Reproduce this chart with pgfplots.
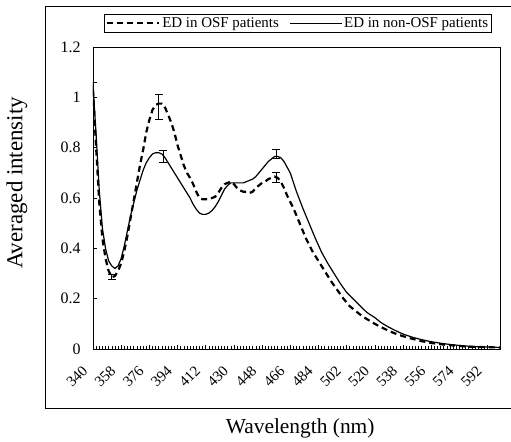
\documentclass[border=0pt]{standalone}
\usepackage{fontspec}
\setmainfont{Liberation Serif}
\usepackage{pgfplots}
\pgfplotsset{compat=1.18}
\begin{document}
\begin{tikzpicture}
\path[use as bounding box] (-93bp,-93bp) rectangle (418bp,349bp);
\begin{axis}[
  at={(0bp,0bp)}, anchor=south west,
  width=407bp, height=302bp, scale only axis,
  xmin=340, xmax=600, ymin=0, ymax=1.2,
  xtick={340,358,376,394,412,430,448,466,484,502,520,538,556,574,592},
  minor x tick num=8,
  ytick={0,0.2,0.4,0.6,0.8,1,1.2},
  yticklabels={0,0.2,0.4,0.6,0.8,1,1.2},
  xtick pos=bottom, ytick pos=left,
  tick align=inside, major tick length=4bp, minor tick length=3bp,
  tick style={line width=0.5bp, black},
  /pgf/number format/assume math mode=true,
  xticklabel style={font=\fontsize{15}{17}\selectfont, rotate=45, anchor=east, xshift=-16bp, yshift=-8bp},
  yticklabel style={font=\fontsize{16}{18}\selectfont, xshift=-9bp},
  axis line style={line width=0.6bp},
  xlabel={Wavelength (nm)},
  ylabel={Averaged intensity},
  xlabel style={font=\fontsize{21.5}{24}\selectfont, at={(axis description cs:0.509,-0.262)}, anchor=center},
  ylabel style={font=\fontsize{23}{26}\selectfont, at={(axis description cs:-0.187,0.55)}, anchor=center, rotate=0},
  legend columns=2,
  legend style={at={(axis description cs:0.504,1.079)}, anchor=center,
    draw=black, line width=0.6bp, font=\fontsize{15}{17}\selectfont,
    inner sep=1.5bp, /tikz/every even column/.append style={column sep=8bp}},
  legend image code/.code={\draw[#1] (0bp,0bp) -- (52bp,0bp);},
]
\addplot[black, line width=2.2bp, dash pattern=on 6bp off 4bp] coordinates {
(340,1.03) (342,0.80) (344,0.58) (346,0.44) (348,0.36) (350,0.31) (352,0.285)
(354,0.29) (356,0.31) (358,0.34) (360,0.39) (362,0.45) (364,0.52) (366,0.59)
(368,0.66) (370,0.73) (372,0.79) (374,0.86) (376,0.91) (378,0.95) (380,0.97)
(382,0.975) (384,0.975) (386,0.96) (388,0.93) (390,0.90) (392,0.86) (394,0.81)
(396,0.77) (398,0.73) (400,0.70) (402,0.68) (404,0.655) (406,0.625) (408,0.60)
(410,0.595) (412,0.595) (414,0.595) (416,0.60) (418,0.605) (420,0.62) (422,0.64)
(424,0.655) (426,0.66) (428,0.665) (430,0.655) (432,0.64) (434,0.63) (436,0.625)
(438,0.625) (440,0.62) (442,0.625) (444,0.64) (446,0.65) (448,0.66) (450,0.665)
(452,0.675) (454,0.68) (456,0.685) (458,0.68) (460,0.665) (462,0.64) (464,0.61)
(468,0.56) (472,0.50) (476,0.44) (480,0.39) (484,0.35) (488,0.31) (492,0.27)
(496,0.235) (500,0.20) (504,0.17) (508,0.15) (512,0.13) (516,0.115) (520,0.10)
(524,0.087) (528,0.075) (532,0.064) (536,0.055) (540,0.047) (545,0.039)
(550,0.031) (556,0.024) (562,0.019) (568,0.015) (574,0.012) (580,0.009)
(586,0.008) (592,0.007) (600,0.006)
};
\addlegendentry{ED in OSF patients}
\addplot[black, line width=1.2bp] coordinates {
(340,1.05) (342,0.85) (344,0.63) (346,0.48) (348,0.40) (350,0.35) (352,0.33)
(354,0.32) (356,0.33) (358,0.36) (360,0.41) (362,0.47) (364,0.53) (366,0.58)
(368,0.63) (370,0.67) (372,0.71) (374,0.74) (376,0.76) (378,0.775) (380,0.78)
(382,0.78) (384,0.775) (386,0.76) (388,0.74) (390,0.72) (392,0.70) (394,0.68)
(396,0.66) (398,0.64) (400,0.62) (402,0.60) (404,0.575) (406,0.555) (408,0.54)
(410,0.535) (412,0.535) (414,0.54) (416,0.55) (418,0.565) (420,0.585) (422,0.61)
(424,0.635) (426,0.65) (428,0.66) (430,0.66) (432,0.66) (434,0.66) (436,0.66)
(438,0.665) (440,0.67) (442,0.675) (444,0.685) (446,0.70) (448,0.715) (450,0.73)
(452,0.745) (454,0.755) (456,0.765) (458,0.765) (460,0.76) (462,0.745)
(466,0.70) (470,0.625) (474,0.56) (478,0.50) (482,0.44) (486,0.385) (490,0.34)
(494,0.30) (498,0.26) (502,0.225) (506,0.20) (510,0.175) (515,0.145) (520,0.125)
(524,0.105) (528,0.09) (532,0.077) (536,0.065) (540,0.055) (545,0.045)
(550,0.037) (556,0.029) (562,0.023) (568,0.018) (574,0.014) (580,0.011)
(586,0.009) (592,0.008) (600,0.006)
};
\addlegendentry{ED in non-OSF patients}
\addplot[forget plot, draw=none, mark=none,
  error bars/.cd, y dir=both, y explicit,
  error bar style={draw=black, line width=1bp, solid},
  error mark options={draw=black, rotate=90, mark size=4bp, line width=1bp, solid}]
  coordinates {
  (340,1.03) +- (0,0.03)
  (352,0.285) +- (0,0.01)
  (382,0.96) +- (0,0.05)
  (457,0.68) +- (0,0.02)
  (385,0.765) +- (0,0.025)
  (457,0.775) +- (0,0.018)
};
\end{axis}
\draw[line width=0.8bp] (420bp,343bp) -- (-48bp,343bp) -- (-48bp,-59bp) -- (420bp,-59bp);
\end{tikzpicture}
\end{document}
